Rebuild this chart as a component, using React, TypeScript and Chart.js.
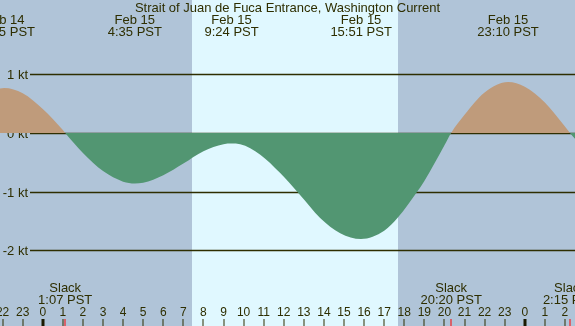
import React, { useEffect, useRef } from "react";
import { Chart, registerables } from "chart.js";

Chart.register(...registerables);

const W = 575;
const H = 326;

// Current speed (knots) vs hours since midnight Feb 15 (PST)
const hours = [-2.13, -1.917, -1, 0, 1, 1.117, 2, 3, 4, 4.583, 5, 6, 7, 8, 9, 9.4, 9.83, 10.83, 11.81, 12.81, 13.81, 14.81, 15.85, 17, 17.69, 18.65, 19, 20, 20.333, 21, 22, 23.167, 24, 25, 26, 26.25, 26.5];
const knots = [0.76, 0.77, 0.68, 0.41, 0.05, 0, -0.34, -0.65, -0.83, -0.86, -0.85, -0.72, -0.52, -0.31, -0.19, -0.18, -0.19, -0.37, -0.68, -1.06, -1.45, -1.71, -1.81, -1.67, -1.44, -1.0, -0.82, -0.21, 0, 0.31, 0.69, 0.87, 0.79, 0.52, 0.11, 0, -0.1];

const xMin = -2.13;
const xMax = 26.5;
const yMin = -3.294;
const yMax = 2.27;

const gridValues = [1, 0, -1, -2];
const gridLabels = ["1 kt", "0 kt", "-1 kt", "-2 kt"];

const sunrise = 7.43;
const sunset = 17.69;

const eventHours = [-1.917, 4.583, 9.4, 15.85, 23.167];
const eventDates = ["Feb 14", "Feb 15", "Feb 15", "Feb 15", "Feb 15"];
const eventTimes = ["22:05 PST", "4:35 PST", "9:24 PST", "15:51 PST", "23:10 PST"];

const slackHours = [1.117, 20.333, 26.25];
const slackTimes = ["1:07 PST", "20:20 PST", "2:15 PST"];

const tickHours = [-2, -1, 0, 1, 2, 3, 4, 5, 6, 7, 8, 9, 10, 11, 12, 13, 14, 15, 16, 17, 18, 19, 20, 21, 22, 23, 24, 25, 26];
const tickLabels = ["22", "23", "0", "1", "2", "3", "4", "5", "6", "7", "8", "9", "10", "11", "12", "13", "14", "15", "16", "17", "18", "19", "20", "21", "22", "23", "0", "1", "2"];

const title = "Strait of Juan de Fuca Entrance, Washington Current";

const NIGHT = "#b0c4d8";
const DAY = "#e0f8ff";
const FLOOD = "#bf9b7b";
const EBB = "#529672";
const INK = "#2e2e00";
const FONT = '"Liberation Sans", Arial, sans-serif';

const decorPlugin = {
  id: "decor",
  beforeDraw(chart: any) {
    const { ctx } = chart;
    const x = chart.scales.x;
    const y = chart.scales.y;
    ctx.save();
    ctx.fillStyle = NIGHT;
    ctx.fillRect(0, 0, W, H);
    const x1 = Math.round(x.getPixelForValue(sunrise));
    const x2 = Math.round(x.getPixelForValue(sunset));
    ctx.fillStyle = DAY;
    ctx.fillRect(x1, 0, x2 - x1, H);

    ctx.strokeStyle = INK;
    ctx.lineWidth = 1.3;
    ctx.fillStyle = INK;
    ctx.font = "13px " + FONT;
    ctx.textAlign = "right";
    ctx.textBaseline = "alphabetic";
    gridValues.forEach((v, i) => {
      const py = Math.round(y.getPixelForValue(v)) + 0.5;
      ctx.beginPath();
      ctx.moveTo(30, py);
      ctx.lineTo(W, py);
      ctx.stroke();
      ctx.fillText(gridLabels[i], 28, py + 4.5);
    });
    ctx.restore();
  },
  afterDatasetsDraw(chart: any) {
    const { ctx } = chart;
    const x = chart.scales.x;
    ctx.save();
    ctx.fillStyle = INK;
    ctx.textAlign = "center";
    ctx.textBaseline = "alphabetic";
    ctx.font = "13px " + FONT;
    ctx.fillText(title, W / 2, 11.5);
    eventHours.forEach((h, i) => {
      const px = x.getPixelForValue(h);
      ctx.fillText(eventDates[i], px, 24);
      ctx.fillText(eventTimes[i], px, 36);
    });
    slackHours.forEach((h, i) => {
      const px = x.getPixelForValue(h);
      ctx.fillText("Slack", px, 291.5);
      ctx.fillText(slackTimes[i], px, 303.5);
    });
    ctx.font = "12px " + FONT;
    tickHours.forEach((h, i) => {
      const px = x.getPixelForValue(h);
      ctx.fillStyle = INK;
      ctx.fillText(tickLabels[i], px, 315.5);
      if (tickLabels[i] === "0") {
        ctx.fillStyle = "#1a1a00";
        ctx.fillRect(Math.round(px) - 1.5, 319, 3, H - 319);
      } else {
        ctx.fillRect(Math.round(px) - 0.5, 319, 1, H - 319);
      }
    });
    ctx.fillStyle = "#ff0000";
    slackHours.forEach((h) => {
      const px = x.getPixelForValue(h);
      ctx.fillRect(Math.round(px) - 0.5, 319, 1, H - 319);
    });
    ctx.restore();
  },
};

export default function App() {
  const ref = useRef<HTMLCanvasElement | null>(null);
  useEffect(() => {
    document.body.style.margin = "0";
    const canvas = ref.current;
    if (!canvas) return;
    const chart = new Chart(canvas, {
      type: "line",
      data: {
        datasets: [
          {
            data: hours.map((h, i) => ({ x: h, y: knots[i] })),
            borderWidth: 0,
            borderColor: "rgba(0,0,0,0)",
            pointRadius: 0,
            cubicInterpolationMode: "monotone",
            fill: { target: "origin", above: FLOOD, below: EBB },
          } as any,
        ],
      },
      options: {
        responsive: false,
        animation: false,
        events: [],
        layout: { padding: 0 },
        plugins: { legend: { display: false }, tooltip: { enabled: false }, title: { display: false } },
        scales: {
          x: { type: "linear", min: xMin, max: xMax, display: false },
          y: { type: "linear", min: yMin, max: yMax, display: false },
        },
      },
      plugins: [decorPlugin],
    });
    return () => chart.destroy();
  }, []);
  return (
    <div style={{ position: "absolute", left: 0, top: 0, width: W, height: H }}>
      <canvas ref={ref} width={W} height={H} style={{ display: "block", width: W, height: H }} />
    </div>
  );
}
